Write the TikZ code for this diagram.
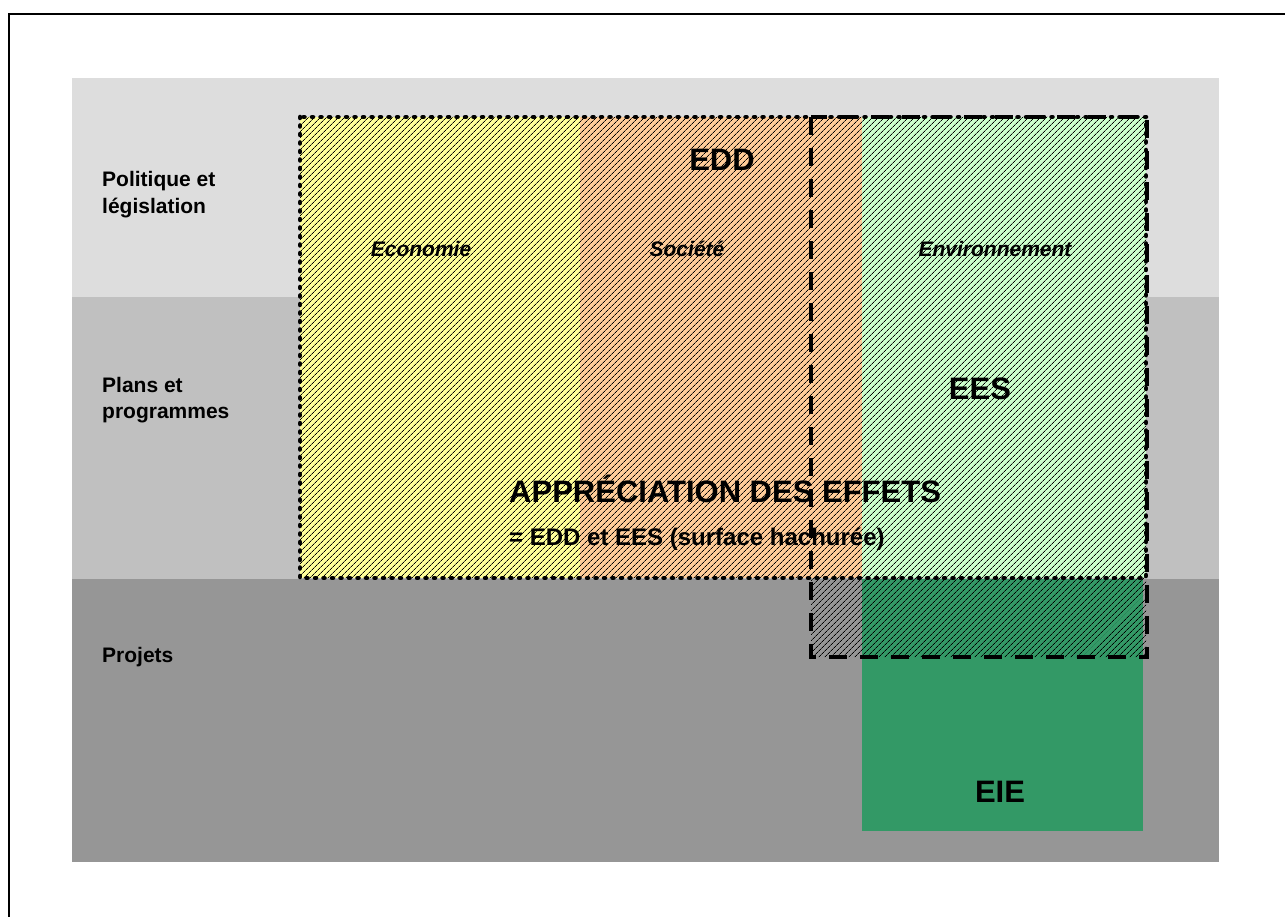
\documentclass[tikz,border=0pt]{standalone}
\usepackage{fontspec}
\setmainfont{Liberation Sans}
\usetikzlibrary{patterns.meta}

\definecolor{bandtop}{HTML}{DDDDDD}
\definecolor{bandmid}{HTML}{C0C0C0}
\definecolor{bandlow}{HTML}{969696}
\definecolor{ecoyellow}{HTML}{FFFF99}
\definecolor{socorange}{HTML}{FFCC99}
\definecolor{envgreen}{HTML}{CCFFCC}
\definecolor{eiegreen}{HTML}{339966}

\begin{document}
\begin{tikzpicture}[
             x               = 1pt,
             y               = -1pt,
             hatch/.style    = {pattern={Lines[angle=45,distance=4pt,line width=0.75pt]},
                                pattern color=black},
             dotframe/.style = {line width=4.5pt, line cap=round, dash pattern=on 1pt off 7.5pt},
             dashframe/.style= {line width=4pt, dash pattern=on 18pt off 13pt},
             rowlabel/.style = {anchor=base west, align=left, inner sep=0pt,
                                font=\fontsize{21}{26.5}\selectfont\bfseries},
             collabel/.style = {anchor=base, inner sep=0pt,
                                font=\fontsize{21}{25}\selectfont\bfseries\itshape},
             biglabel/.style = {anchor=base, inner sep=0pt,
                                font=\fontsize{31}{36}\selectfont\bfseries}]
             \useasboundingbox (0,0) rectangle (1285,917);
             \draw [line width=2pt] (8.5,917) -- (8.5,14.5) -- (1285,14.5);
             % niveaux
             \fill [bandtop] (72,78)  rectangle (1219,297);
             \fill [bandmid] (72,297) rectangle (1219,579);
             \fill [bandlow] (72,579) rectangle (1219,862);
             \fill [eiegreen] (862,579) rectangle (1143,831);
             % piliers
             \fill [ecoyellow] (300,117) rectangle (580,578);
             \fill [socorange] (580,117) rectangle (862,578);
             \fill [envgreen]  (862,117) rectangle (1146,578);
             \fill [hatch] (300,117) -- (1146,117) -- (1146,657) -- (811,657)
                   -- (811,578) -- (300,578) -- cycle;
             \draw [dotframe]  (300,117) rectangle (1146,578);
             \draw [dashframe] (811,117) rectangle (1147,657);
             % textes
             \node [rowlabel] (politique) at (102,213.5) {Politique et\\législation};
             \node [rowlabel] (plans)     at (102,418.5) {Plans et\\programmes};
             \node [rowlabel] (projets)   at (102,662) {Projets};
             \node [collabel] (economie)  at (421,257) {Economie};
             \node [collabel] (societe)   at (687,257) {Société};
             \node [collabel] (environ)   at (995,257) {Environnement};
             \node [biglabel] (edd) at (722,171) {EDD};
             \node [biglabel] (ees) at (980,399) {EES};
             \node [biglabel] (eie) at (1000,802) {EIE};
             \node [anchor=base west, inner sep=0pt,
                    font=\fontsize{31}{36}\selectfont\bfseries] (appreciation)
                    at (509,502) {APPRÉCIATION DES EFFETS};
             \node [anchor=base west, inner sep=0pt,
                    font=\fontsize{24}{28}\selectfont\bfseries] (definition)
                    at (509,545) {= EDD et EES (surface hachurée)};
\end{tikzpicture}
\end{document}
